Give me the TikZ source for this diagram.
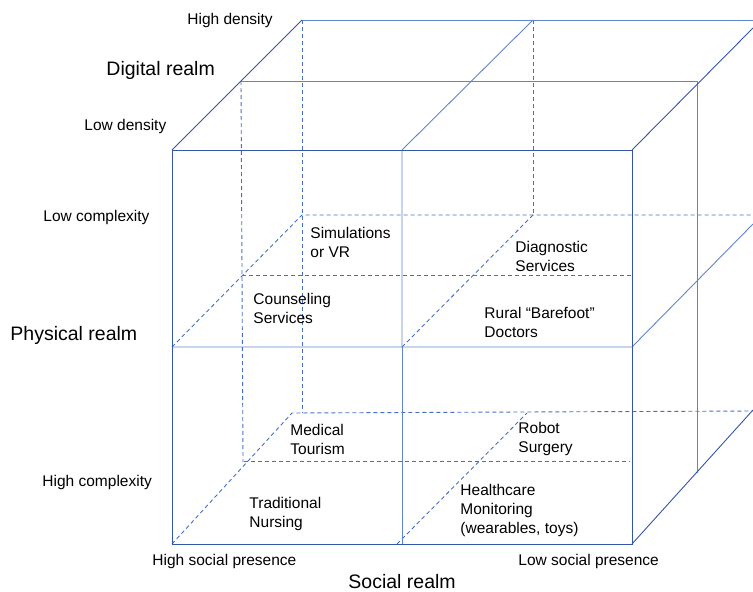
\documentclass[tikz,border=0pt]{standalone}
\usepackage{fontspec}
\setmainfont{Liberation Sans}
\definecolor{edgeblue}{RGB}{52,86,166}
\definecolor{backblue}{RGB}{96,132,208}
\definecolor{hideblue}{RGB}{70,110,200}
\begin{document}
\begin{tikzpicture}[x=1pt, y=-1pt, line width=0.9pt, font=\fontsize{15.5}{19}\selectfont,
		frontline/.style={draw=edgeblue},
		backline/.style={draw=backblue},
		hidden/.style={draw=hideblue, dash pattern=on 4pt off 3pt},
		lbl/.style={anchor=north west, inner sep=0pt, align=left},
		bigl/.style={lbl, font=\fontsize{19.5}{23}\selectfont}]
		\useasboundingbox (0,0) rectangle (753,592);
		\coordinate (fTL) at (172,150);
		\coordinate (fTM) at (402,150);
		\coordinate (fTR) at (632,150);
		\coordinate (fML) at (172,347);
		\coordinate (fMM) at (402,347);
		\coordinate (fMR) at (632,347);
		\coordinate (fBL) at (172,544);
		\coordinate (fBM) at (402,544);
		\coordinate (fBR) at (632,544);
		\coordinate (hTL) at (302,20);
		\coordinate (hTM) at (533,20);
		\coordinate (lTL) at (241,81);
		\coordinate (lTR) at (697,81);
		\coordinate (lBR) at (697,473);
		\draw[hidden] (lTL) -- (243,462);
		\draw[hidden] (hTL) -- (302,413);
		\draw[hidden] (hTM) -- (533,213);
		\draw[hidden] (fML) -- (302,215) -- (753,215);
		\draw[hidden] (242,275) -- (632,275);
		\draw[hidden] (fMM) -- (533,215);
		\draw[hidden] (fBL) -- (292,413) -- (753,411);
		\draw[hidden] (244,461) -- (630,461);
		\draw[hidden] (397,544) -- (527,413);
		\draw[backline] (lTL) -- (lTR) -- (lBR);
		\draw[backline] (hTL) -- (753,20);
		\draw[backline] (fMM) -- (fTM) -- (hTM);
		\draw[backline] (fML) -- (fMR) -- (753,224);
		\draw[backline] (fMM) -- (fBM);
		\draw[frontline] (fTL) rectangle (fBR);
		\draw[frontline] (fTL) -- (hTL);
		\draw[frontline] (fTR) -- (753,28);
		\draw[frontline] (fBR) -- (753,410);
		\node[lbl] (hidens) at (187,13) {High density};
		\node[bigl] (digital) at (106,61) {Digital realm};
		\node[lbl] (lodens) at (84,119) {Low density};
		\node[lbl] (locompl) at (43,210) {Low complexity};
		\node[bigl] (physical) at (10,326) {Physical realm};
		\node[lbl] (hicompl) at (42,475) {High complexity};
		\node[lbl] (simvr) at (310,227) {Simulations\\or VR};
		\node[lbl] (diagn) at (515,241) {Diagnostic\\Services};
		\node[lbl] (counsel) at (253,293) {Counseling\\Services};
		\node[lbl] (rural) at (484,307) {Rural “Barefoot”\\Doctors};
		\node[lbl] (medtour) at (290,424) {Medical\\Tourism};
		\node[lbl] (robot) at (518,422) {Robot\\Surgery};
		\node[lbl] (nursing) at (249,497) {Traditional\\Nursing};
		\node[lbl] (monitor) at (460,484) {Healthcare\\Monitoring\\(wearables, toys)};
		\node[lbl] (hisocial) at (152,554) {High social presence};
		\node[lbl] (losocial) at (518,554) {Low social presence};
		\node[bigl] (social) at (348,574) {Social realm};
\end{tikzpicture}
\end{document}
